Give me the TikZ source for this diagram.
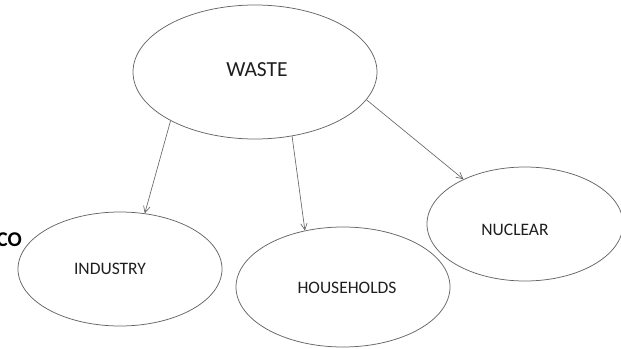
\documentclass[tikz,border=0pt]{standalone}
\usepackage{fontspec}
\setmainfont{Carlito}
\usetikzlibrary{shapes.geometric,arrows.meta}
\definecolor{edgegray}{HTML}{666666}
\definecolor{txt}{HTML}{1E1E1E}
\tikzset{
  bubble/.style={draw=edgegray, line width=0.75pt, ellipse, inner sep=0pt},
  lbl/.style={text=txt, inner sep=0pt, font=\fontsize{17.5}{20}\selectfont},
  conn/.style={draw=edgegray, line width=0.65pt, -{Straight Barb[length=6.5pt,width=6.5pt]}}
}
\begin{document}
\begin{tikzpicture}[x=1pt,y=-1pt]
\useasboundingbox (0,0) rectangle (621,348);
\node[bubble, minimum width=244pt, minimum height=134pt] (waste) at (255,72) {};
\node[bubble, minimum width=204pt, minimum height=114pt] (industry) at (120,269) {};
\node[bubble, minimum width=214pt, minimum height=120pt] (households) at (343,287) {};
\node[bubble, minimum width=196pt, minimum height=114pt] (nuclear) at (525,224) {};
\node[lbl, font=\fontsize{21.5}{24}\selectfont] (tw) at (257,70) {WASTE};
\node[lbl] (ti) at (110,269) {INDUSTRY};
\node[lbl] (th) at (347,288) {HOUSEHOLDS};
\node[lbl] (tn) at (515,230) {NUCLEAR};
\node[inner sep=0pt, anchor=east, text=black, font=\bfseries\fontsize{21}{24}\selectfont] (co) at (22,240) {CO};
\draw[conn] (waste.210.7) -- (industry.66.7);
\draw[conn] (waste.300.3) -- (households.124.2);
\draw[conn] (waste.346.9) -- (nuclear.144.1);
\end{tikzpicture}
\end{document}
